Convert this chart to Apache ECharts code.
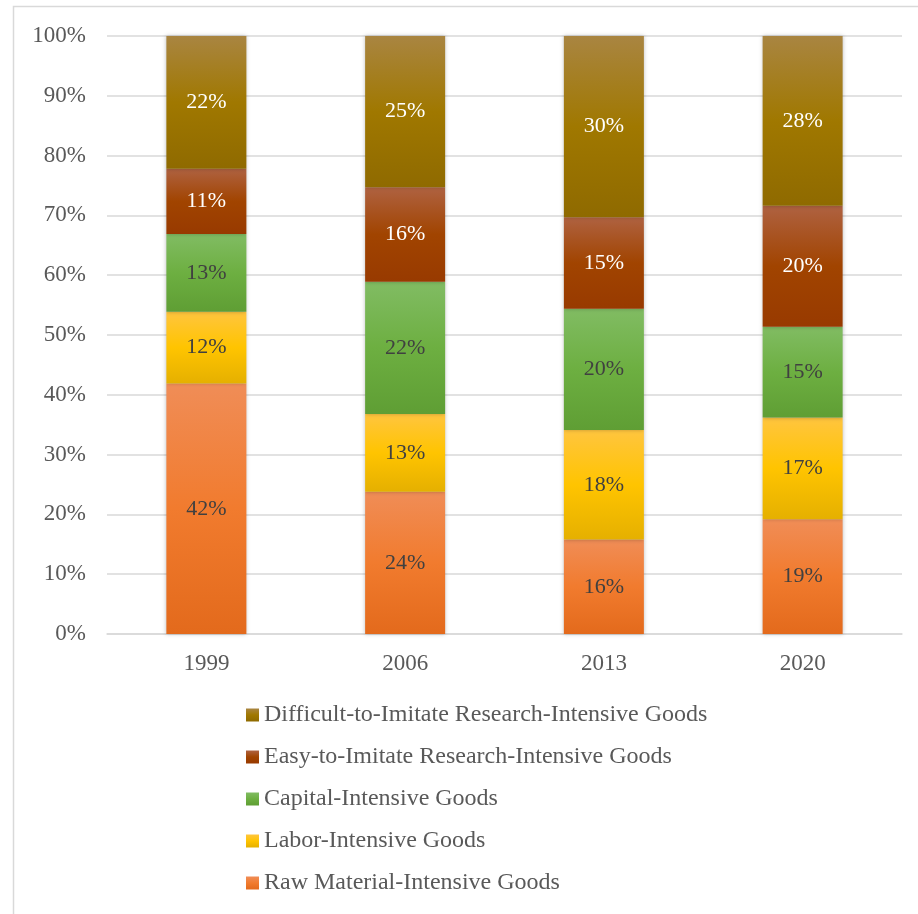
<!DOCTYPE html>
<html>
<head>
<meta charset="utf-8">
<script src="https://cdn.jsdelivr.net/npm/echarts@6/dist/echarts.min.js"></script>
<style>
html,body{margin:0;padding:0;background:#fff;}
#chart{width:918px;height:914px;}
</style>
</head>
<body>
<div id="chart"></div>
<script>
const categories = ['1999', '2006', '2013', '2020'];
const rawMaterial = [41.9, 23.8, 15.8, 19.2];
const laborIntensive = [12.0, 13.0, 18.3, 17.0];
const capitalIntensive = [13.0, 22.1, 20.3, 15.2];
const easyResearch = [10.9, 15.8, 15.3, 20.2];
const difficultResearch = [22.2, 25.3, 30.3, 28.4];
const yTicks = [0, 10, 20, 30, 40, 50, 60, 70, 80, 90, 100];

const seriesNames = [
  'Raw Material-Intensive Goods',
  'Labor-Intensive Goods',
  'Capital-Intensive Goods',
  'Easy-to-Imitate Research-Intensive Goods',
  'Difficult-to-Imitate Research-Intensive Goods'
];
const seriesData = [rawMaterial, laborIntensive, capitalIntensive, easyResearch, difficultResearch];
const gradients = [
  ['#f08d57', '#f17b2e', '#e36a1c'],
  ['#ffc53f', '#ffc400', '#e5b000'],
  ['#81bc63', '#6daf41', '#5f9e34'],
  ['#af6241', '#a14400', '#983a00'],
  ['#a98541', '#a07800', '#8f6a00']
];
const labelColors = ['#404040', '#404040', '#404040', '#ffffff', '#ffffff'];
const FONT = '"Liberation Serif", "Times New Roman", serif';

const series = seriesNames.map((name, i) => ({
  name: name,
  type: 'bar',
  stack: 'total',
  barWidth: 80,
  data: seriesData[i],
  itemStyle: {
    color: {
      type: 'linear', x: 0, y: 0, x2: 0, y2: 1,
      colorStops: [
        { offset: 0, color: gradients[i][0] },
        { offset: 0.5, color: gradients[i][1] },
        { offset: 1, color: gradients[i][2] }
      ]
    },
    shadowBlur: 4,
    shadowColor: 'rgba(0,0,0,0.25)'
  },
  label: {
    show: true,
    position: 'inside',
    formatter: p => Math.round(p.value) + '%',
    color: labelColors[i],
    fontFamily: FONT,
    fontSize: 22
  },
  emphasis: { disabled: true }
}));

const chart = echarts.init(document.getElementById('chart'));
chart.setOption({
  animation: false,
  backgroundColor: '#ffffff',
  graphic: [{
    type: 'rect',
    shape: { x: 13.5, y: 6.5, width: 1000, height: 1000 },
    style: { fill: 'none', stroke: '#d9d9d9', lineWidth: 1.5 },
    silent: true
  }],
  grid: { left: 107, right: 16, top: 36, bottom: 280, containLabel: false },
  legend: {
    orient: 'vertical',
    left: 246,
    top: 703,
    padding: 0,
    icon: 'rect',
    itemWidth: 13,
    itemHeight: 13,
    itemGap: 18,
    data: seriesNames.slice().reverse(),
    textStyle: { fontFamily: FONT, fontSize: 24, color: '#595959' }
  },
  xAxis: {
    type: 'category',
    data: categories,
    axisTick: { show: false },
    axisLine: { lineStyle: { color: '#d9d9d9', width: 1.5 } },
    axisLabel: { fontFamily: FONT, fontSize: 23, color: '#595959', margin: 18 }
  },
  yAxis: {
    type: 'value',
    min: yTicks[0],
    max: yTicks[yTicks.length - 1],
    interval: 10,
    axisLine: { show: false },
    axisTick: { show: false },
    splitLine: { lineStyle: { color: '#d9d9d9', width: 1.5 } },
    axisLabel: { fontFamily: FONT, fontSize: 23, color: '#595959', margin: 21, formatter: '{value}%' }
  },
  series: series
});
</script>
</body>
</html>
